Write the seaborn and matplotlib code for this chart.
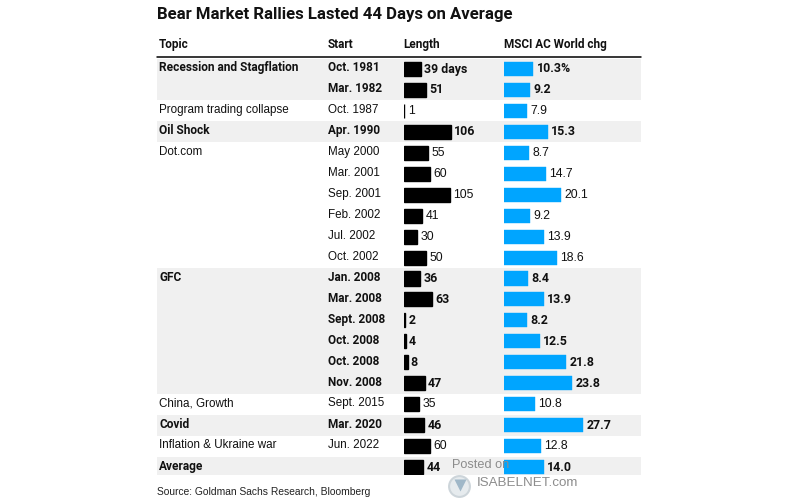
import numpy as np
import pandas as pd
from matplotlib import pyplot as plt
import seaborn as sns

topics = ["Recession and Stagflation", "", "Program trading collapse", "Oil Shock", "Dot.com",
          "", "", "", "", "", "GFC", "", "", "", "", "", "China, Growth", "Covid",
          "Inflation & Ukraine war", "Average"]
starts = ["Oct. 1981", "Mar. 1982", "Oct. 1987", "Apr. 1990", "May 2000", "Mar. 2001", "Sep. 2001",
          "Feb. 2002", "Jul. 2002", "Oct. 2002", "Jan. 2008", "Mar. 2008", "Sept. 2008", "Oct. 2008",
          "Oct. 2008", "Nov. 2008", "Sept. 2015", "Mar. 2020", "Jun. 2022", ""]
lengths = [39, 51, 1, 106, 55, 60, 105, 41, 30, 50, 36, 63, 2, 4, 8, 47, 35, 46, 60, 44]
msci = [10.3, 9.2, 7.9, 15.3, 8.7, 14.7, 20.1, 9.2, 13.9, 18.6, 8.4, 13.9, 8.2, 12.5, 21.8,
        23.8, 10.8, 27.7, 12.8, 14.0]
bold_rows = [0, 1, 3, 10, 11, 12, 13, 14, 15, 17, 19]
headers = ["Topic", "Start", "Length", "MSCI AC World chg"]

sns.set_theme(style="white")
plt.rcParams['font.family'] = ['Liberation Sans', 'DejaVu Sans']

df = pd.DataFrame({'row': range(len(lengths)), 'length': lengths, 'msci': msci})
length_labels = [str(v) for v in lengths]
length_labels[0] = "39 days"
msci_labels = [f"{v:.1f}" if v == 14.0 else f"{v:g}" for v in msci]
msci_labels[0] = "10.3%"

W, H = 800, 500
top_px, bottom_px = 57, 475
row_h = 20.95
ylim = ((bottom_px - 69) / row_h, (top_px - 69) / row_h)


def px_axes(fig, left, right):
    ax = fig.add_axes([left / W, 1 - bottom_px / H, (right - left) / W, (bottom_px - top_px) / H])
    ax.patch.set_alpha(0)
    return ax


# bold rows use Roboto, it is narrower like the original face
def style(i, size=8.4, bold_size=8.6):
    if i in bold_rows:
        return {'family': 'Roboto', 'weight': 'bold', 'size': bold_size}
    return {'family': 'Liberation Sans', 'weight': 'normal', 'size': size}


fig = plt.figure(figsize=(8, 5), dpi=100)

# background + text columns, x in pixels
bg = px_axes(fig, 0, W)
bg.set_xlim(0, W)
bg.set_ylim(*ylim)
bg.axis('off')
for i in bold_rows:
    bg.axhspan(i - 0.5, i + 0.5, xmin=157 / W, xmax=641 / W, color='#f0f0f0', lw=0)
for i in range(len(lengths)):
    bg.text(159, i - 0.05, topics[i], color='#111111', va='center', **style(i))
    bg.text(327.5, i - 0.05, starts[i], color='#111111', va='center', **style(i, bold_size=8.5))


def draw_bars(col, left, right, px_per_unit, color, labels, lw):
    ax = px_axes(fig, left, right)
    sns.barplot(data=df, x=col, y='row', orient='h', color=color, saturation=1, width=0.67,
                edgecolor=color, linewidth=lw, ax=ax)
    ax.set_xlim(0, (right - left) / px_per_unit)
    ax.set_ylim(*ylim)
    ax.axis('off')
    texts = ax.bar_label(ax.containers[0], labels=labels, padding=2.4, color='#111111')
    for i, t in enumerate(texts):
        s = style(i, 8.8, 8.9)
        t.set_fontfamily(s['family'])
        t.set_fontweight(s['weight'])
        t.set_fontsize(s['size'])
    return ax


draw_bars('length', 404, 500, 0.44, 'black', length_labels, 1.0)
draw_bars('msci', 504, 641, 2.86, '#00a5ff', msci_labels, 0.3)

fig.text(157 / W, 1 - 14 / H, "Bear Market Rallies Lasted 44 Days on Average", fontsize=12.1,
         family='Roboto', weight='bold', color='#111111', va='center')
for x, label in zip([159, 327.5, 403.5, 503.5], headers):
    fig.text(x / W, 1 - 44.5 / H, label, fontsize=8.45, family='Roboto', weight='bold',
             color='#111111', va='center')
fig.add_artist(plt.Line2D([157 / W, 641 / W], [1 - 56.5 / H] * 2, color='black', lw=1.1))
fig.text(157 / W, 1 - 492 / H, "Source: Goldman Sachs Research, Bloomberg", fontsize=7.35,
         color='#222222', va='center')

# watermark
fig.text(452 / W, 1 - 464.5 / H, "Posted on", fontsize=9.2, color='#8c8c8c', va='center', zorder=10)
fig.text(476.5 / W, 1 - 483 / H, "ISABELNET.com", fontsize=9.6, color='#8c8c8c', va='center', zorder=10)
fig.add_artist(plt.Line2D([459 / W], [1 - 486 / H], marker='o', ms=15, mfc='#e6ebee', mec='#cdd5da', mew=1.5))
fig.add_artist(plt.Line2D([459.5 / W], [1 - 484.5 / H], marker='v', ms=8, mfc='#9fb7c8', mec='none'))

fig.savefig("out.png", dpi=100)
